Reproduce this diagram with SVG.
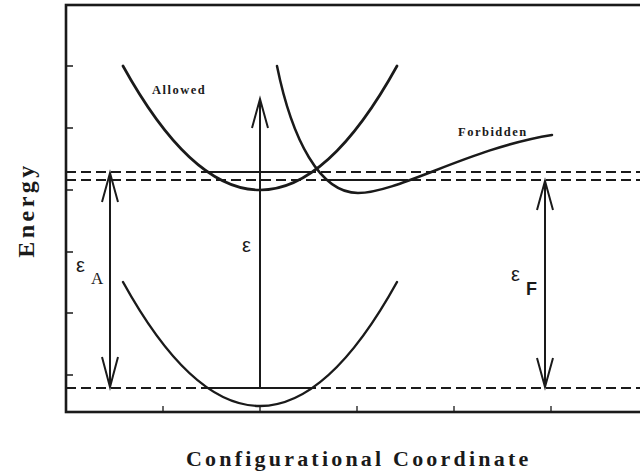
<svg xmlns="http://www.w3.org/2000/svg" width="640" height="471" viewBox="0 0 640 471">
<style>
.frame{fill:none;stroke:#1a1a1a;stroke-width:2.6}
.tick{stroke:#1a1a1a;stroke-width:1.3}
.curve{fill:none;stroke:#1a1a1a;stroke-width:2.7;stroke-linecap:round}
.dash{fill:none;stroke:#1a1a1a;stroke-width:2.2;stroke-dasharray:10 5}
.level{stroke:#1a1a1a;stroke-width:2.2}
.arr{fill:none;stroke:#1a1a1a;stroke-width:2;stroke-linejoin:miter}
.lbl{font-family:"Liberation Serif",serif;font-weight:bold;fill:#1a1a1a}
.sym{font-family:"Liberation Sans",sans-serif;fill:#1a1a1a}
</style>
<rect width="640" height="471" fill="#fff"/>
<g id="axes">
<rect class="frame" x="66" y="5" width="578" height="407"/>
<path class="tick" d="M66,66H73M66,128H73M66,190H73M66,252H73M66,313H73M66,375H73"/>
<path class="tick" d="M163,412V406M260,412V406M357,412V406M454,412V406M551,412V406"/>
</g>
<g id="levels">
<line class="dash" x1="66" y1="172" x2="644" y2="172"/>
<line class="dash" x1="66" y1="180" x2="644" y2="180"/>
<line class="dash" x1="66" y1="388" x2="644" y2="388"/>
<line class="level" x1="208" y1="172" x2="313" y2="172"/>
<line class="level" x1="326" y1="180" x2="408" y2="180"/>
<line class="level" x1="208" y1="388" x2="312" y2="388"/>
</g>
<g id="allowed-upper">
<path class="curve" d="M123,66 Q260,314 397,66"/>
</g>
<g id="allowed-lower">
<path class="curve" d="M123,282 Q260,530 397,282" style="stroke-width:2.4"/>
</g>
<g id="forbidden">
<path class="curve" d="M277,66 C292,140 320,193 358,193 C398,193 470,148 552,135" style="stroke-width:2.5"/>
</g>
<g id="connectors">
<line class="arr" x1="260" y1="388" x2="260" y2="100"/>
<path class="arr" d="M252,128 L260,99 L268,128"/>
<line class="arr" x1="110" y1="174" x2="110" y2="386"/>
<path class="arr" d="M102,202 L110,173 L118,202"/>
<path class="arr" d="M102,357 L110,387 L118,357"/>
<line class="arr" x1="545" y1="182" x2="545" y2="386"/>
<path class="arr" d="M537,210 L545,181 L553,210"/>
<path class="arr" d="M537,358 L545,387 L553,358"/>
</g>
<g id="labels">
<text class="lbl" x="152" y="94" font-size="12.5" letter-spacing="1.5">Allowed</text>
<text class="lbl" x="458" y="136" font-size="12.5" letter-spacing="1.5">Forbidden</text>
<text class="sym" x="242" y="252" font-size="20">ε</text>
<text class="sym" x="76" y="272" font-size="20">ε</text>
<text class="lbl" x="91" y="284" font-size="17" style="font-weight:normal">A</text>
<text class="sym" x="511" y="281" font-size="20">ε</text>
<text class="sym" x="526" y="295" font-size="18" font-weight="bold">F</text>
<text class="lbl" transform="translate(34,210) rotate(-90)" text-anchor="middle" font-size="24" letter-spacing="3.5">Energy</text>
<text class="lbl" x="186" y="466" font-size="22" letter-spacing="3.2">Configurational Coordinate</text>
</g>
</svg>
